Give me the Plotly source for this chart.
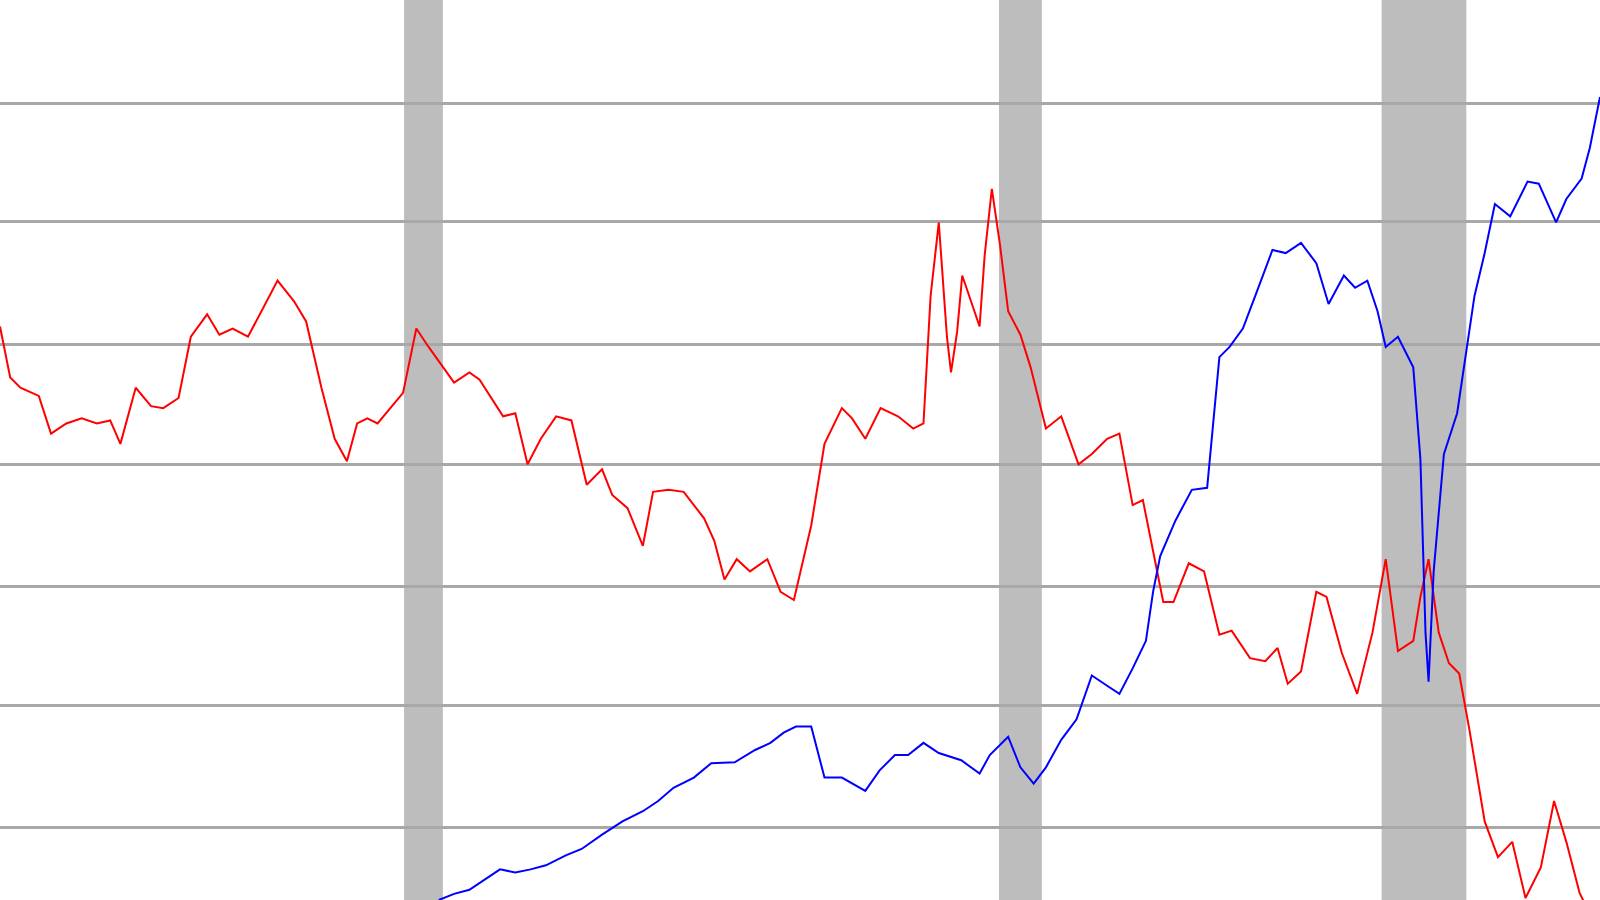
import plotly.graph_objects as go

red_x = [0,10,20,38,50,65,80,95,108,118,133,148,160,175,187,203,215,228,243,272,288,300,315,328,340,350,360,370,395,408,420,445,460,470,493,505,517,530,545,560,575,590,600,615,630,640,655,670,690,700,710,722,735,752,765,778,795,808,825,835,848,863,880,895,905,912,920,928,932,938,943,950,955,960,965,972,980,988,1000,1010,1025,1040,1057,1070,1085,1097,1110,1120,1130,1140,1150,1165,1180,1195,1207,1225,1240,1252,1262,1275,1290,1300,1315,1330,1345,1358,1370,1385,1392,1400,1410,1420,1430,1440,1455,1468,1482,1495,1510,1523,1535,1548,1560]
red_y = [580,530,520,512,475,485,490,485,488,465,520,502,500,510,570,592,572,578,570,625,605,585,520,470,448,485,490,485,515,578,560,525,535,528,492,495,445,470,492,488,425,440,415,402,365,418,420,418,392,370,332,352,340,352,320,312,385,465,500,490,470,500,492,480,485,610,682,570,535,575,630,610,595,580,650,715,660,595,572,540,480,492,445,455,470,475,405,410,360,310,310,348,340,278,282,255,252,265,230,242,320,315,260,220,280,352,262,272,315,352,280,250,240,185,95,60,75,20,50,115,75,25,0]

blue_x = [430,445,460,475,490,505,520,535,555,570,590,610,630,645,660,680,697,720,740,755,768,780,795,808,825,848,862,877,890,905,920,942,960,970,988,1000,1013,1025,1040,1055,1070,1085,1097,1110,1123,1130,1137,1152,1168,1183,1195,1205,1218,1232,1247,1260,1275,1290,1302,1317,1328,1340,1350,1358,1370,1385,1392,1397,1400,1405,1415,1428,1438,1445,1455,1465,1480,1497,1508,1525,1535,1550,1558,1568]
blue_y = [18,24,28,38,48,45,48,52,62,68,82,95,105,115,128,138,152,153,165,172,182,188,188,138,138,125,145,160,160,172,162,155,142,160,178,148,132,148,175,195,238,228,220,245,272,320,355,390,420,422,550,560,578,615,655,652,662,642,602,630,618,625,595,560,570,540,450,280,232,340,455,495,560,610,652,700,688,722,720,682,705,725,755,805]

grid_vals = [89,209,325,445,562,683,799]
recessions = [(396,434),(979,1021),(1354,1437)]

fig = go.Figure()
fig.add_trace(go.Scatter(x=red_x, y=red_y, mode="lines", line=dict(color="#ff0000", width=2)))
fig.add_trace(go.Scatter(x=blue_x, y=blue_y, mode="lines", line=dict(color="#0000ff", width=2)))
for a, b in recessions:
    fig.add_shape(type="rect", xref="x", yref="paper", x0=a, x1=b, y0=0, y1=1,
                  fillcolor="#bdbdbd", line_width=0, layer="below")
fig.update_layout(
    width=1600, height=900, margin=dict(l=0, r=0, t=0, b=0),
    plot_bgcolor="white", paper_bgcolor="white", showlegend=False,
    xaxis=dict(range=[0, 1568], showgrid=False, zeroline=False, showticklabels=False),
    yaxis=dict(range=[18, 900], tickvals=grid_vals, showticklabels=False, gridcolor="#a8a8a8",
               gridwidth=3, zeroline=False),
)
fig.write_html("out.html", config={"displayModeBar": False},
               post_script="document.body.style.margin='0';document.body.style.overflow='hidden';")
